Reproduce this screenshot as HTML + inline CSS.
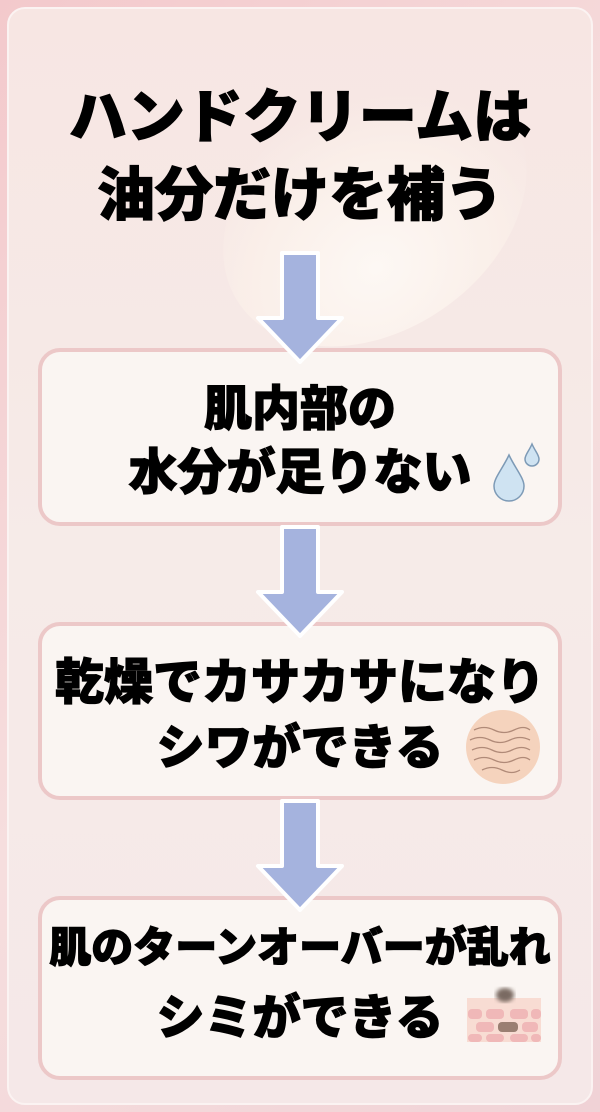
<!DOCTYPE html>
<html><head><meta charset="utf-8"><style>
*{margin:0;padding:0;box-sizing:border-box}
body{width:600px;height:1112px;background:linear-gradient(135deg,#f3c9cc,#f6dede 50%,#f0d2d6);position:relative;overflow:hidden;font-family:"Liberation Sans","Noto Sans CJK JP",sans-serif;font-weight:900;color:#000}
.panel{position:absolute;left:7px;top:7px;width:586px;height:1098px;border-radius:18px;background:linear-gradient(180deg,#f7e6e3,#f6ebe8 50%,#f5e8e8);border:2px solid #fbf3f2}
.t{position:absolute;left:0;width:600px;text-align:center;white-space:nowrap;line-height:1;-webkit-text-stroke:1.2px #000}
.box{position:absolute;left:38px;width:524px;border:4px solid #ecc8c8;border-radius:22px;background:#faf5f2}
.cream{position:absolute;left:210px;top:90px;width:330px;height:240px;border-radius:50%;background:radial-gradient(ellipse at 40% 70%,#fdf8f4 0%,#faefe9 45%,rgba(246,230,226,0) 70%);transform:rotate(-35deg)}
</style></head><body>
<div class="panel"></div>
<div class="cream"></div>
<div class="t" style="top:89px;font-size:58px">ハンドクリームは</div>
<div class="t" style="top:167px;font-size:58px">油分だけを補う</div>

<div class="box" style="top:348px;height:178px"></div>
<div class="box" style="top:622px;height:178px"></div>
<div class="box" style="top:896px;height:184px"></div>

<svg width="600" height="1112" style="position:absolute;left:0;top:0">
<defs><filter id="g"><feGaussianBlur stdDeviation="2"/></filter></defs>
<g fill="#a5b3de" stroke="#fff" stroke-width="4" stroke-linejoin="round">
<path d="M282 253H318V318H342L300 362L258 318H282Z"/>
<path d="M282 527H318V592H342L300 636L258 592H282Z"/>
<path d="M282 801H318V866H342L300 910L258 866H282Z"/>
</g>
<g fill="#cfe3f2" stroke="#7d9ab6" stroke-width="1.5">
<path d="M509 455C503 468 494 478 494 486A15 15 0 0 0 524 486C524 478 515 468 509 455Z"/>
<path d="M532 444C529 451 525 455 525 459A7 7 0 0 0 539 459C539 455 535 451 532 444Z"/>
</g>
<circle cx="503" cy="747" r="37" fill="#f5d3bd"/>
<g fill="none" stroke="#b08a78" stroke-width="1.3">
<path d="M474 730q10-5 20 0t20 0 16 0"/><path d="M470 740q10-5 20 0t20 0 20 0"/><path d="M472 750q10-5 20 0t20 0 18 0"/><path d="M474 760q10-5 20 0t20 0 16 0"/><path d="M482 770q10-5 20 0t18 0"/>
</g>
<rect x="467" y="998" width="74" height="44" fill="#f8dcd3"/>
<g fill="#f0b8b8">
<rect x="468" y="1009" width="14" height="10" rx="4"/><rect x="486" y="1009" width="18" height="10" rx="4"/><rect x="510" y="1009" width="18" height="10" rx="4"/><rect x="531" y="1009" width="10" height="10" rx="4"/>
<rect x="476" y="1022" width="18" height="10" rx="4"/><rect x="522" y="1022" width="16" height="10" rx="4"/>
<rect x="468" y="1034" width="14" height="8" rx="4"/><rect x="486" y="1034" width="18" height="8" rx="4"/><rect x="510" y="1034" width="18" height="8" rx="4"/><rect x="531" y="1034" width="10" height="8" rx="4"/>
</g>
<rect x="498" y="1022" width="20" height="10" rx="4" fill="#9a7f72"/>
<ellipse cx="505" cy="995" rx="9" ry="7" fill="#7a6a62" filter="url(#g)"/>
</svg>

<div class="t" style="top:386px;font-size:48px">肌内部の</div>
<div class="t" style="top:449px;font-size:49px">水分が足りない</div>
<div class="t" style="top:659px;font-size:49px">乾燥でカサカサになり</div>
<div class="t" style="top:725px;font-size:48px">シワができる</div>
<div class="t" style="top:927px;font-size:42px">肌のターンオーバーが乱れ</div>
<div class="t" style="top:995px;font-size:48px">シミができる</div>
</body></html>
